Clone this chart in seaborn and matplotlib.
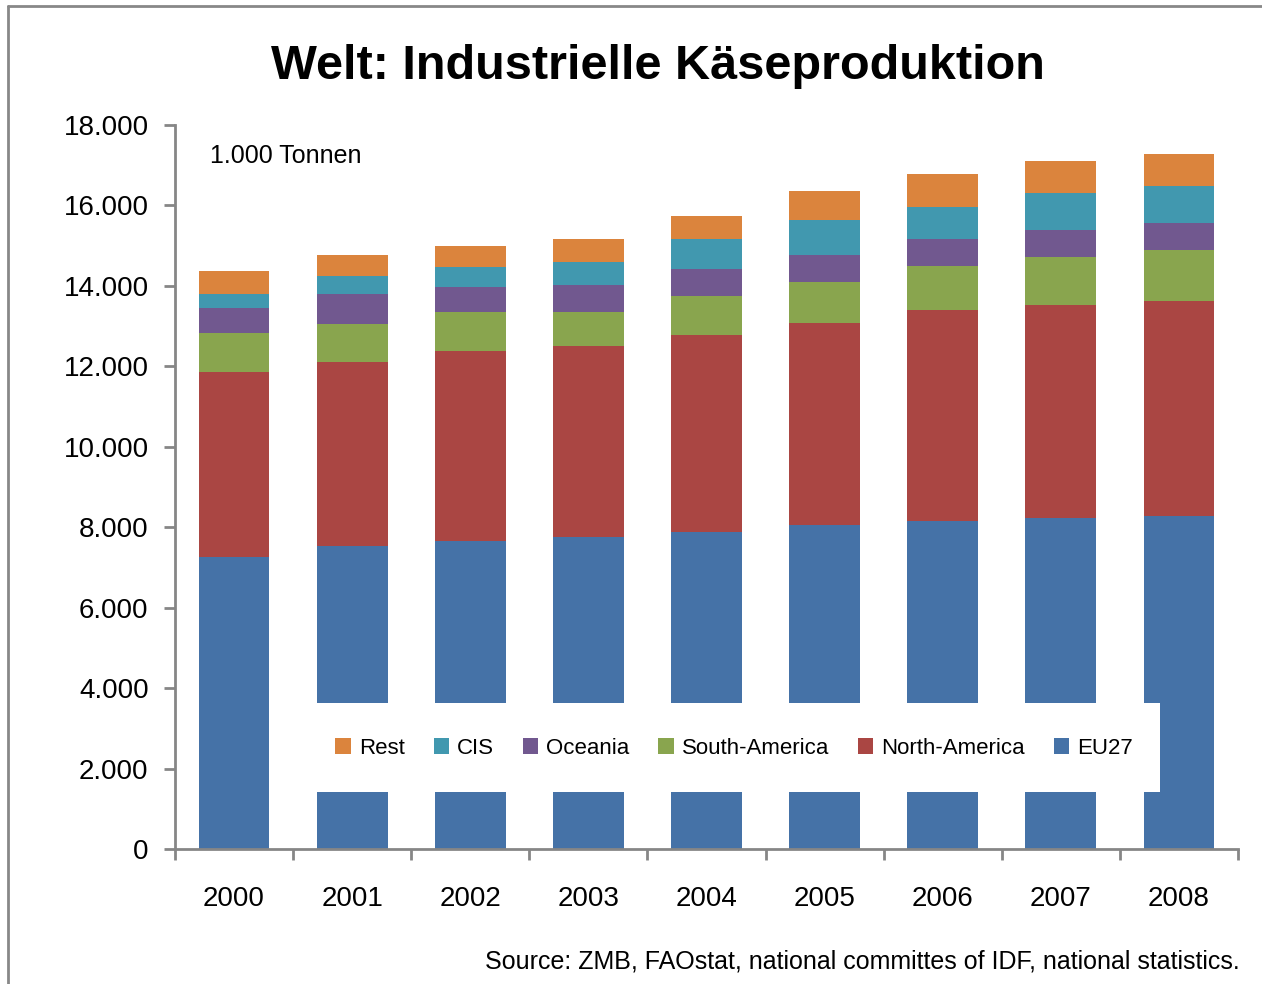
import numpy as np
import pandas as pd
import seaborn as sns
import matplotlib.pyplot as plt
from matplotlib.patches import Patch, Rectangle
from matplotlib.lines import Line2D
from matplotlib.ticker import FuncFormatter, FixedLocator

years = ['2000', '2001', '2002', '2003', '2004', '2005', '2006', '2007', '2008']
eu27 = [7260, 7540, 7655, 7760, 7880, 8055, 8160, 8225, 8275]
north_america = [4600, 4560, 4730, 4740, 4905, 5020, 5245, 5295, 5350]
south_america = [980, 960, 970, 855, 970, 1020, 1080, 1205, 1260]
oceania = [615, 740, 620, 670, 670, 680, 690, 670, 680]
cis = [350, 455, 505, 570, 745, 855, 795, 920, 910]
rest = [570, 515, 515, 580, 575, 740, 805, 795, 800]

series = ['EU27', 'North-America', 'South-America', 'Oceania', 'CIS', 'Rest']
colors = ['#4572A7', '#AA4643', '#89A54E', '#71588F', '#4198AF', '#DB843D']

df = pd.DataFrame({'Year': years, 'EU27': eu27, 'North-America': north_america,
                   'South-America': south_america, 'Oceania': oceania,
                   'CIS': cis, 'Rest': rest})
cum = df[series].cumsum(axis=1)

sns.set_style('white')
plt.rcParams['font.family'] = ['Liberation Sans', 'DejaVu Sans']
plt.rcParams['text.color'] = 'black'
plt.rcParams['xtick.labelcolor'] = 'black'
plt.rcParams['ytick.labelcolor'] = 'black'

fig = plt.figure(figsize=(12.62, 9.84), dpi=100)
ax = fig.add_axes([175 / 1262, 1 - 849 / 984, (1238 - 175) / 1262, 724 / 984])

# stacked bars: draw cumulative totals from the top series down
for name, c in reversed(list(zip(series, colors))):
    sns.barplot(x=df['Year'], y=cum[name], color=c, saturation=1, width=0.6,
                linewidth=0, ax=ax)

ax.set_xlim(-0.5, 8.5)
ax.set_ylim(0, 18000)
ax.set_yticks(np.arange(0, 18001, 2000))
ax.yaxis.set_major_formatter(FuncFormatter(lambda v, p: f'{int(v):,}'.replace(',', '.')))
ax.set_xlabel('')
ax.set_ylabel('')

gray = '#868686'
for s in ['top', 'right']:
    ax.spines[s].set_visible(False)
for s in ['left', 'bottom']:
    ax.spines[s].set_color(gray)
    ax.spines[s].set_linewidth(2)

ax.tick_params(axis='y', direction='out', length=8, width=2, color=gray,
               labelsize=20, pad=11, left=True)
ax.tick_params(axis='x', which='major', length=0, labelsize=20, pad=27)
ax.xaxis.set_minor_locator(FixedLocator(np.arange(-0.5, 9, 1)))
ax.tick_params(axis='x', which='minor', direction='out', length=8, width=2,
               color=gray, bottom=True)

ax.text(0.033, 0.957, '1.000 Tonnen', transform=ax.transAxes, fontsize=18,
        va='center', ha='left')

# white legend box over the bars
ax.add_patch(Rectangle((0.110, 0.0787), 0.8166, 0.123, transform=ax.transAxes,
                       facecolor='white', edgecolor='none', zorder=5))
handles = [Patch(facecolor=c, edgecolor='none', label=n)
           for n, c in reversed(list(zip(series, colors)))]
leg = ax.legend(handles=handles, ncol=6, loc='center',
                bbox_to_anchor=(0.526, 0.1395), frameon=False,
                prop={'size': 16},
                handlelength=0.7, handleheight=0.7, handletextpad=0.35,
                columnspacing=1.3)
leg.set_zorder(6)

fig.text(0.521, 0.932, 'Welt: Industrielle Käseproduktion', ha='center',
         va='center', fontsize=35, fontweight='bold')
fig.text(0.9826, 0.0224, 'Source: ZMB, FAOstat, national committes of IDF, national statistics.',
         ha='right', va='center', fontsize=18)

# outer frame (top and left edges)
fig.add_artist(Line2D([8 / 1262, 8 / 1262], [0, 1 - 6 / 984], color='#888888',
                      lw=2, transform=fig.transFigure))
fig.add_artist(Line2D([8 / 1262, 1], [1 - 6 / 984, 1 - 6 / 984], color='#888888',
                      lw=2, transform=fig.transFigure))

fig.savefig('out.png', dpi=100)
